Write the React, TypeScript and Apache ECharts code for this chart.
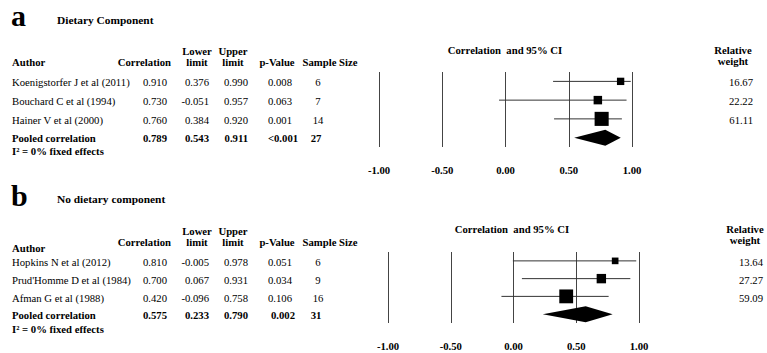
import React, { useEffect, useRef } from "react";
import * as echarts from "echarts";

// ---------- Data ----------
const xTicks = [-1, -0.5, 0, 0.5, 1];

const studiesA = ["Koenigstorfer J et al (2011)", "Bouchard C et al (1994)", "Hainer V et al (2000)"];
const corrA = [0.91, 0.73, 0.76];
const lowerA = [0.376, -0.051, 0.384];
const upperA = [0.99, 0.957, 0.92];
const pValA = ["0.008", "0.063", "0.001"];
const sizeA = [6, 7, 14];
const weightA = [16.67, 22.22, 61.11];
const pooledA = [0.789, 0.543, 0.911];
const pooledPA = "<0.001";
const pooledNA = 27;

const studiesB = ["Hopkins N et al (2012)", "Prud'Homme D et al (1984)", "Afman G et al (1988)"];
const corrB = [0.81, 0.7, 0.42];
const lowerB = [-0.005, 0.067, -0.096];
const upperB = [0.978, 0.931, 0.758];
const pValB = ["0.051", "0.034", "0.106"];
const sizeB = [6, 9, 16];
const weightB = [13.64, 27.27, 59.09];
const pooledB = [0.575, 0.233, 0.79];
const pooledPB = "0.002";
const pooledNB = 31;

const FONT = "Liberation Serif";
const FS = 10.7;

function fmt3(v: number) {
  return v.toFixed(3);
}

function txt(text: string, x: number, y: number, align: string, bold = false, size = FS) {
  return {
    type: "text",
    x,
    y,
    silent: true,
    style: {
      text,
      fill: "#000",
      font: `${bold ? "bold " : ""}${size}px "${FONT}"`,
      align,
      verticalAlign: "middle",
    },
  };
}

function panelGraphics(p: any) {
  const els: any[] = [];
  els.push(txt(p.letter, 11, p.letterY, "left", true, 30));
  els.push(txt(p.title, 57, p.titleY, "left", true, 11.4));
  // headers
  els.push(txt("Author", 12, p.authorY, "left", true));
  els.push(txt("Correlation", 171, p.h2, "right", true));
  els.push(txt("Lower", 197, p.h1, "center", true));
  els.push(txt("limit", 197, p.h2, "center", true));
  els.push(txt("Upper", 233, p.h1, "center", true));
  els.push(txt("limit", 233, p.h2, "center", true));
  els.push(txt("p-Value", 277, p.h2, "center", true));
  els.push(txt("Sample Size", 330, p.h2, "center", true));
  els.push(txt("Correlation  and 95% CI", p.ciX, p.ciY, "center", true));
  els.push(txt("Relative", p.rwX, p.ciY, "center", true));
  els.push(txt("weight", p.rwX, p.ciY + 11, "center", true));
  p.studies.forEach((s: string, i: number) => {
    const y = p.rowY[i];
    els.push(txt(s, 12, y, "left"));
    els.push(txt(fmt3(p.corr[i]), 167, y, "right"));
    els.push(txt(fmt3(p.lower[i]), 209, y, "right"));
    els.push(txt(fmt3(p.upper[i]), 248, y, "right"));
    els.push(txt(p.pv[i], 280, y, "center"));
    els.push(txt(String(p.n[i]), 318, y, "center"));
    els.push(txt(p.w[i].toFixed(2), p.wRight, y, "right"));
  });
  const py = p.rowY[3];
  els.push(txt("Pooled correlation", 12, py, "left", true));
  els.push(txt(fmt3(p.pooled[0]), 167, py, "right", true));
  els.push(txt(fmt3(p.pooled[1]), 209, py, "right", true));
  els.push(txt(fmt3(p.pooled[2]), 248, py, "right", true));
  els.push(txt(p.pooledP, 283, py, "center", true));
  els.push(txt(String(p.pooledN), 316, py, "center", true));
  els.push(txt("I\u00B2 = 0% fixed effects", 12, p.i2Y, "left", true));
  return els;
}

function forestData(corr: number[], lower: number[], upper: number[], w: number[], pooled: number[]) {
  const d: any[] = corr.map((c, i) => [i, c, lower[i], upper[i], w[i], 0]);
  d.push([3, pooled[0], pooled[1], pooled[2], 0, 1]);
  return d;
}

function renderForest(params: any, api: any) {
  const row = api.value(0);
  const c = api.coord([api.value(1), row]);
  const lo = api.coord([api.value(2), row]);
  const hi = api.coord([api.value(3), row]);
  const pooled = api.value(5) === 1;
  if (pooled) {
    const h = 16;
    return {
      type: "polygon",
      shape: {
        points: [
          [lo[0], c[1]],
          [c[0], c[1] - h / 2],
          [hi[0], c[1]],
          [c[0], c[1] + h / 2],
        ],
      },
      style: { fill: "#000" },
    };
  }
  const s = Math.sqrt(api.value(4)) * 1.8;
  return {
    type: "group",
    children: [
      {
        type: "line",
        shape: { x1: lo[0], y1: c[1], x2: hi[0], y2: c[1] },
        style: { stroke: "#333", lineWidth: 1 },
      },
      {
        type: "rect",
        shape: { x: c[0] - s / 2, y: c[1] - s / 2, width: s, height: s },
        style: { fill: "#000" },
      },
    ],
  };
}

export default function App() {
  const ref = useRef<HTMLDivElement>(null);
  useEffect(() => {
    if (!ref.current) return;
    const chart = echarts.init(ref.current, undefined, { renderer: "svg" });
    const gridA = { left: 379, width: 253, top: 72, height: 75 };
    const gridB = { left: 388, width: 251, top: 252, height: 71 };
    const bandA = gridA.height / 4;
    const bandB = gridB.height / 4;
    const rowYA = [0, 1, 2, 3].map((i) => gridA.top + bandA * (i + 0.5) + 0.8);
    const rowYB = [0, 1, 2, 3].map((i) => gridB.top + bandB * (i + 0.5) + 1.3);

    const xAxisBase = (gridIndex: number, margin: number) => ({
      type: "value",
      gridIndex,
      min: xTicks[0],
      max: xTicks[xTicks.length - 1],
      interval: 0.5,
      axisLine: { show: false },
      axisTick: { show: false },
      splitLine: { show: true, lineStyle: { color: "#444", width: 1 } },
      axisLabel: {
        margin,
        fontFamily: FONT,
        fontWeight: "bold",
        fontSize: FS,
        color: "#000",
        formatter: (v: number) => v.toFixed(2),
      },
    });
    const yAxisBase = (gridIndex: number) => ({
      type: "category",
      gridIndex,
      data: ["0", "1", "2", "3"],
      inverse: true,
      show: false,
    });

    const graphics = [
      ...panelGraphics({
        letter: "a",
        letterY: 15,
        title: "Dietary Component",
        titleY: 20,
        authorY: 62,
        h1: 51,
        h2: 62,
        ciX: 505,
        ciY: 50,
        rwX: 733,
        wRight: 753,
        rowY: rowYA,
        i2Y: 151,
        studies: studiesA,
        corr: corrA,
        lower: lowerA,
        upper: upperA,
        pv: pValA,
        n: sizeA,
        w: weightA,
        pooled: pooledA,
        pooledP: pooledPA,
        pooledN: pooledNA,
      }),
      ...panelGraphics({
        letter: "b",
        letterY: 195,
        title: "No dietary component",
        titleY: 199,
        authorY: 248,
        h1: 231,
        h2: 242,
        ciX: 512,
        ciY: 229,
        rwX: 745,
        wRight: 763,
        rowY: rowYB,
        i2Y: 329,
        studies: studiesB,
        corr: corrB,
        lower: lowerB,
        upper: upperB,
        pv: pValB,
        n: sizeB,
        w: weightB,
        pooled: pooledB,
        pooledP: pooledPB,
        pooledN: pooledNB,
      }),
    ];

    chart.setOption({
      animation: false,
      backgroundColor: "#fff",
      grid: [gridA, gridB],
      xAxis: [xAxisBase(0, 17), xAxisBase(1, 17)],
      yAxis: [yAxisBase(0), yAxisBase(1)],
      series: [
        {
          type: "custom",
          xAxisIndex: 0,
          yAxisIndex: 0,
          renderItem: renderForest,
          encode: { x: [1, 2, 3], y: 0 },
          data: forestData(corrA, lowerA, upperA, weightA, pooledA),
          silent: true,
        },
        {
          type: "custom",
          xAxisIndex: 1,
          yAxisIndex: 1,
          renderItem: renderForest,
          encode: { x: [1, 2, 3], y: 0 },
          data: forestData(corrB, lowerB, upperB, weightB, pooledB),
          silent: true,
        },
      ],
      graphic: graphics,
    });
    return () => chart.dispose();
  }, []);
  return (
    <div
      ref={ref}
      style={{ position: "absolute", left: 0, top: 0, width: 767, height: 353 }}
    />
  );
}
